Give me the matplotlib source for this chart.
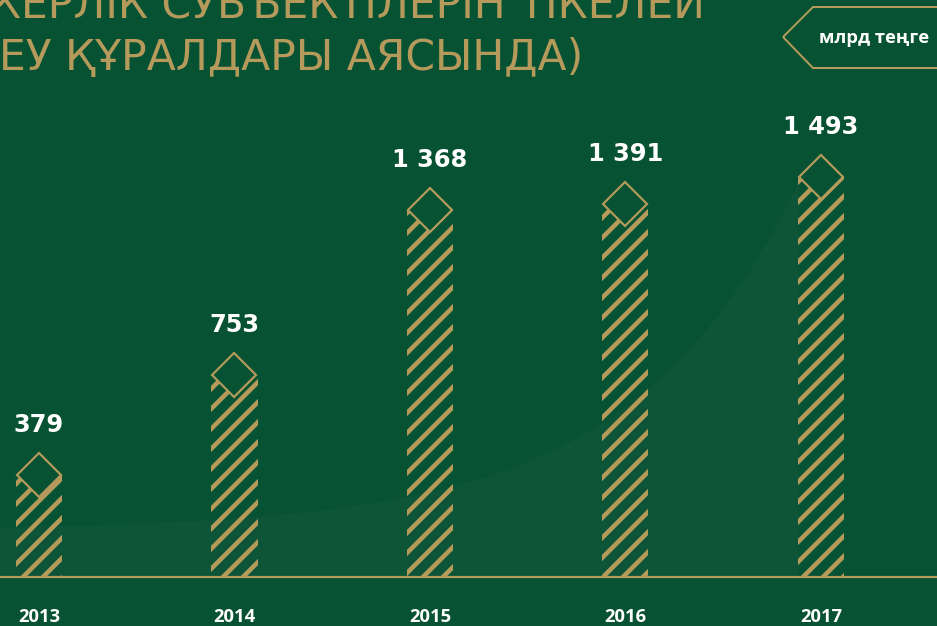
import numpy as np
import matplotlib
matplotlib.use("Agg")
import matplotlib.pyplot as plt
from matplotlib.patches import Polygon

# данные
years = ["2013", "2014", "2015", "2016", "2017"]
values = [379, 753, 1368, 1391, 1493]
labels = ["379", "753", "1 368", "1 391", "1 493"]
unit = "млрд теңге"
title_1 = "ПКЕРЛІК СУБЪЕКТІЛЕРІН ТІКЕЛЕЙ"
title_2 = "ЕУ ҚҰРАЛДАРЫ АЯСЫНДА)"

BG = "#075233"
LIGHT = "#0e5538"
GOLD = "#b59a5b"
W, H, DPI = 937, 626, 120

plt.rcParams["hatch.linewidth"] = 2.7

fig = plt.figure(figsize=(W / DPI, H / DPI), dpi=DPI, facecolor=BG)
ax = fig.add_axes([0, 0, 1, 1])
ax.set_facecolor(BG)

# шкала: 195.5 px между столбиками, 0.268 px на единицу
step, k, x0, y0 = 195.5, 0.268, 39, 577
ax.set_xlim(-x0 / step, (W - x0) / step)
ax.set_ylim(-(H - y0) / k, y0 / k)
ax.axis("off")

x = np.arange(len(years))
bw = 46 / step

# светлая кривая область за столбиками
xs = np.linspace(-x0 / step, x[-1] - bw / 2, 300)
px = x0 + xs * step
curve = (50 + 2.9 * (np.exp(0.006 * px) - 1)) / k
ax.fill_between(xs, 0, curve, color=LIGHT, lw=0, zorder=1)

ax.bar(x, values, width=bw, color="none", edgecolor=GOLD, linewidth=0,
       hatch="//", zorder=2)
ax.axhline(0, color=GOLD, lw=1.3, zorder=3)
ax.plot(x, values, ls="none", marker="D", ms=18.5, mfc=BG, mec=GOLD,
        mew=1.3, zorder=4)

for i, v in enumerate(values):
    ax.annotate(labels[i], (x[i], v), xytext=(0, 30), textcoords="offset points",
                ha="center", va="center", color="white", fontsize=14.5,
                fontweight="bold", family="DejaVu Sans", zorder=5)
    ax.annotate(years[i], (x[i], 0), xytext=(0, -24), textcoords="offset points",
                ha="center", va="center", color="white", fontsize=11,
                fontweight="bold", family="Open Sans", zorder=5)

# заголовок (обрезан краями)
fig.text(705 / W, 1 - 18 / H, title_1, ha="right", va="baseline", color=GOLD,
         fontsize=25.5, family="DejaVu Sans")
fig.text(583 / W, 1 - 70 / H, title_2, ha="right", va="baseline", color=GOLD,
         fontsize=25.5, family="DejaVu Sans")

# плашка с единицами
pts = [(783, 37), (813, 7), (945, 7), (945, 68), (813, 68)]
badge = Polygon([(a / W, 1 - b / H) for a, b in pts], closed=True,
                transform=fig.transFigure, fill=False, edgecolor=GOLD, lw=1.2)
fig.add_artist(badge)
fig.text(874 / W, 1 - 38 / H, unit, ha="center", va="center", color="white",
         fontsize=11, fontweight="bold", family="Open Sans")

fig.savefig("out.png", dpi=DPI, facecolor=BG)
